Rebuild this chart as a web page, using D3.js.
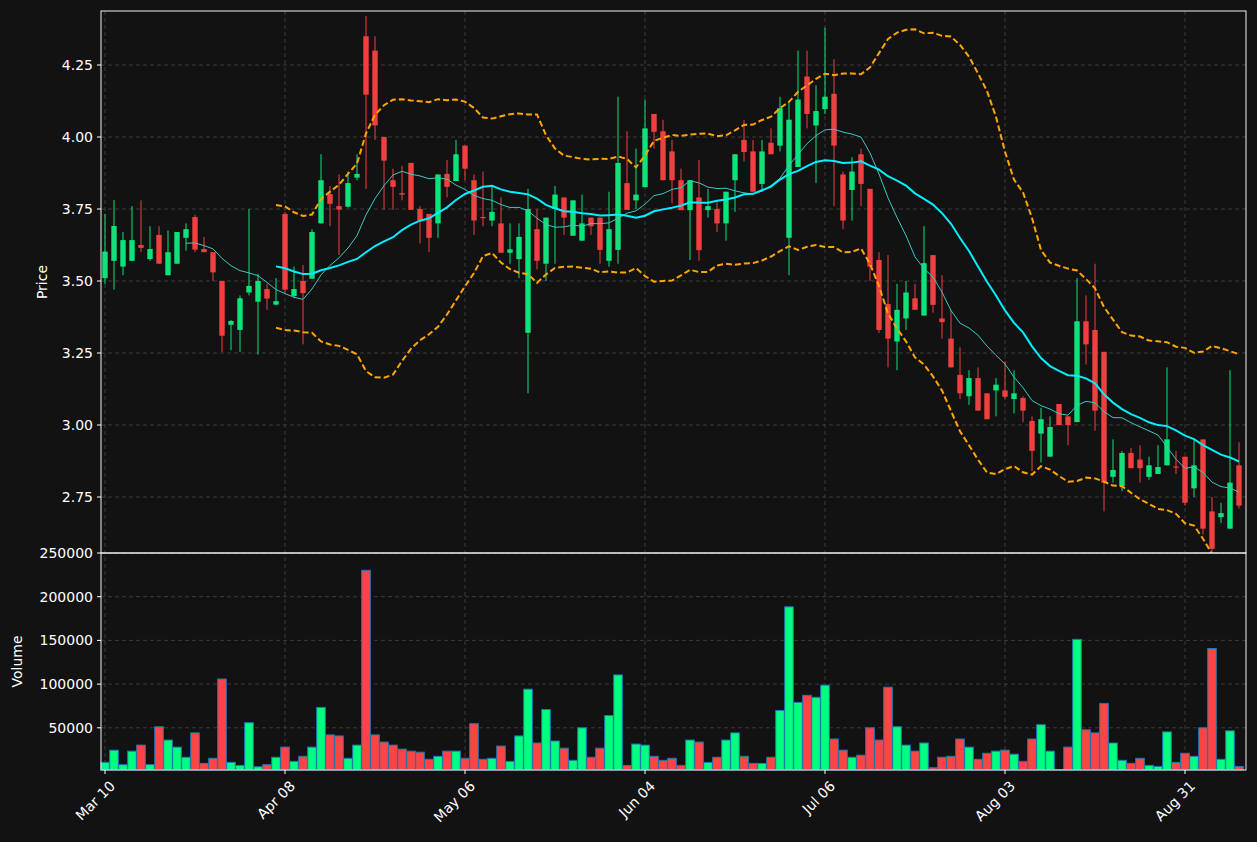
<!DOCTYPE html>
<html><head><meta charset="utf-8">
<script src="https://cdn.jsdelivr.net/npm/d3@7/dist/d3.min.js"></script>
<style>body{margin:0;background:#121212;}svg{display:block;font-family:"DejaVu Sans",sans-serif;}</style>
</head><body><svg id="c" width="1257" height="842"></svg>
<script>
const openP  = [3.51,3.57,3.55,3.57,3.625,3.576,3.66,3.52,3.56,3.65,3.722,3.611,3.60,3.50,3.348,3.33,3.46,3.428,3.472,3.418,3.733,3.448,3.50,3.508,3.70,3.802,3.76,3.758,3.859,4.35,4.30,4.00,3.85,3.805,3.91,3.75,3.733,3.70,3.872,3.847,3.97,3.85,3.722,3.71,3.70,3.598,3.576,3.32,3.68,3.56,3.75,3.79,3.657,3.64,3.72,3.72,3.57,3.608,3.84,3.78,3.826,4.08,4.02,3.95,3.85,3.746,3.79,3.746,3.75,3.70,3.85,3.99,3.95,3.837,3.98,3.97,3.65,3.896,4.21,4.04,4.097,4.15,3.87,3.816,3.94,3.82,3.573,3.42,3.29,3.37,3.44,3.38,3.59,3.37,3.30,3.174,3.10,3.163,3.11,3.12,3.12,3.09,3.094,3.014,2.97,2.89,3.073,3.03,3.01,3.36,3.33,3.254,2.82,2.788,2.903,2.88,2.82,2.83,2.86,2.856,2.89,2.78,2.95,2.70,2.68,2.64,2.86];
const closeP = [3.602,3.691,3.642,3.642,3.615,3.611,3.56,3.60,3.67,3.68,3.609,3.60,3.53,3.31,3.361,3.44,3.483,3.50,3.439,3.43,3.47,3.472,3.458,3.67,3.85,3.768,3.748,3.84,3.872,4.147,4.04,3.918,3.827,3.80,3.747,3.71,3.65,3.87,3.827,3.94,3.89,3.71,3.718,3.74,3.598,3.61,3.653,3.75,3.57,3.72,3.80,3.72,3.78,3.70,3.69,3.608,3.68,3.91,3.747,3.80,4.03,4.018,3.85,3.85,3.746,3.85,3.607,3.76,3.70,3.81,3.94,3.948,3.81,3.95,3.94,4.10,4.06,4.13,4.08,4.09,4.14,3.97,3.71,3.88,3.837,3.55,3.33,3.30,3.40,3.46,3.40,3.562,3.417,3.357,3.20,3.11,3.163,3.05,3.02,3.14,3.098,3.11,3.05,2.91,3.02,2.993,3.00,3.00,3.36,3.28,3.05,2.80,2.844,2.903,2.85,2.85,2.86,2.854,2.95,2.852,2.73,2.86,2.64,2.57,2.694,2.80,2.72];
const highP  = [3.733,3.781,3.67,3.76,3.78,3.69,3.69,3.675,3.67,3.70,3.73,3.653,3.60,3.50,3.365,3.45,3.75,3.525,3.49,3.51,3.74,3.55,3.555,3.68,3.94,3.83,3.87,3.88,3.94,4.42,4.35,4.00,3.89,3.90,3.91,3.76,3.733,3.87,3.92,3.99,3.97,3.87,3.88,3.83,3.79,3.70,3.70,3.82,3.75,3.72,3.83,3.79,3.78,3.80,3.72,3.72,3.81,4.14,4.02,3.96,4.13,4.08,4.06,3.99,3.89,3.85,3.92,3.82,3.78,3.81,3.94,4.06,3.99,3.99,4.03,4.14,4.12,4.30,4.30,4.18,4.38,4.27,3.88,3.93,3.96,3.82,3.60,3.59,3.49,3.50,3.49,3.69,3.59,3.52,3.40,3.27,3.19,3.20,3.11,3.163,3.22,3.19,3.10,3.03,3.06,3.03,3.073,3.03,3.51,3.45,3.56,3.254,2.95,2.91,2.92,2.93,2.89,2.93,3.20,2.91,2.89,2.95,2.95,2.75,2.73,3.19,2.94];
const lowP   = [3.49,3.47,3.52,3.57,3.60,3.57,3.56,3.52,3.56,3.605,3.60,3.60,3.50,3.254,3.26,3.254,3.45,3.245,3.40,3.415,3.46,3.44,3.28,3.508,3.70,3.69,3.59,3.755,3.85,3.82,3.99,3.747,3.747,3.78,3.747,3.63,3.60,3.65,3.79,3.847,3.85,3.66,3.69,3.69,3.598,3.56,3.51,3.11,3.54,3.50,3.56,3.66,3.657,3.64,3.66,3.56,3.55,3.56,3.747,3.75,3.826,3.96,3.85,3.77,3.746,3.573,3.57,3.72,3.67,3.64,3.74,3.915,3.81,3.81,3.94,3.95,3.52,3.896,4.03,3.84,4.08,3.76,3.68,3.71,3.76,3.50,3.32,3.20,3.19,3.33,3.40,3.38,3.39,3.30,3.20,3.09,3.07,3.05,3.02,3.03,3.09,3.04,3.01,2.84,2.87,2.89,3.00,2.93,3.01,3.21,2.98,2.70,2.80,2.77,2.85,2.80,2.81,2.83,2.86,2.83,2.72,2.75,2.62,2.56,2.66,2.64,2.71];
const volume = [10.5,24.4,7.8,23.3,30.2,7.8,51.2,36,27.9,16.3,44.2,9.3,15.1,105.8,10.5,7,55.8,5.4,7.8,16.3,27.9,11.6,17.4,27.9,73.3,41.9,40.7,15.1,30.2,230.2,41.9,33.7,30.2,25.6,23.3,22.1,14,17.4,23.3,23.3,15.1,54.7,14,15.1,29.1,11.6,40.7,94.2,32.6,70.9,34.9,26.7,12.8,50,16.3,26.7,64,110.5,7,31.4,30.2,17.4,12.8,15.1,7,36,33.7,10.5,16.3,36,44.2,17.4,9.3,9.3,16.3,69.8,188.4,79.1,87.2,84.9,98.8,37.2,24.4,16.3,18.6,50,36,96.5,51.2,30.2,23.3,32.6,4.3,16.3,17.4,37.2,27.9,14,20.9,23.3,24.4,19.8,11.6,37.2,53.5,23.3,2.3,27.9,151.2,47.7,44.2,77.9,32.6,12.8,9.3,15.1,7,5.8,45.3,10.5,20.9,17.4,50,140.7,14,46.5,5.8].map(v=>v*1000);
const tickIdx = [0,20,40,60,80,100,120];
const tickLabels = ["Mar 10","Apr 08","May 06","Jun 04","Jul 06","Aug 03","Aug 31"];
const priceTicks = [2.75,3.00,3.25,3.50,3.75,4.00,4.25];
const volTicks = [50000,100000,150000,200000,250000];

const N = closeP.length;
const svg = d3.select("#c");
const L=101,R=1246,PT=11,PB=553,VB=770;
const x = d3.scaleLinear().domain([0,126]).range([105,1239]);
const y = d3.scaleLinear().domain([2.75,4.25]).range([497,65]);
const yv = d3.scaleLinear().domain([0,250000]).range([771.5,553]);
const GREEN="#0ee27a", RED="#ef3f3f", VG="#00ff80", VR="#ff4444";
svg.append("rect").attr("width",1257).attr("height",842).attr("fill","#121212");
svg.append("defs").append("clipPath").attr("id","pc").append("rect").attr("x",L).attr("y",PT).attr("width",R-L).attr("height",PB-PT);

const grid = svg.append("g").attr("stroke","#3a3a3a").attr("stroke-dasharray","4,3").attr("stroke-width",1);
tickIdx.forEach(i=>{grid.append("line").attr("x1",x(i)).attr("x2",x(i)).attr("y1",PT).attr("y2",VB);});
priceTicks.forEach(p=>{grid.append("line").attr("x1",L).attr("x2",R).attr("y1",y(p)).attr("y2",y(p));});
volTicks.forEach(v=>{grid.append("line").attr("x1",L).attr("x2",R).attr("y1",yv(v)).attr("y2",yv(v));});

function sma(n){return closeP.map((c,i)=>i<n-1?null:d3.mean(closeP.slice(i-n+1,i+1)));}
const s10=sma(10), s20=sma(20);
const up=[],lo=[];
closeP.forEach((c,i)=>{if(i<19){up.push(null);lo.push(null);return;}const w=closeP.slice(i-19,i+1);const m=d3.mean(w);const sd=Math.sqrt(d3.mean(w.map(v=>(v-m)**2)));up.push(m+2*sd);lo.push(m-2*sd);});

const pg=svg.append("g").attr("clip-path","url(#pc)");
d3.range(N).forEach(i=>{
  const g = closeP[i]>=openP[i]; const col=g?GREEN:RED;
  pg.append("line").attr("x1",x(i)).attr("x2",x(i)).attr("y1",y(highP[i])).attr("y2",y(lowP[i])).attr("stroke",col).attr("stroke-width",1);
  const t=y(Math.max(openP[i],closeP[i])), b=y(Math.min(openP[i],closeP[i]));
  pg.append("rect").attr("x",x(i)-2.7).attr("width",5.4).attr("y",t).attr("height",Math.max(1,b-t)).attr("fill",col);
});
const line=d3.line().defined(d=>d!=null).x((d,i)=>x(i)).y(d=>y(d));
pg.append("path").datum(up).attr("d",line).attr("fill","none").attr("stroke","#ffa500").attr("stroke-width",2).attr("stroke-dasharray","6,3");
pg.append("path").datum(lo).attr("d",line).attr("fill","none").attr("stroke","#ffa500").attr("stroke-width",2).attr("stroke-dasharray","6,3");
pg.append("path").datum(s10).attr("d",line).attr("fill","none").attr("stroke","#3cc8c0").attr("stroke-width",1);
pg.append("path").datum(s20).attr("d",line).attr("fill","none").attr("stroke","#00f0ff").attr("stroke-width",2);

const vg=svg.append("g");
d3.range(N).forEach(i=>{
  const g=closeP[i]>=openP[i];
  vg.append("rect").attr("x",x(i)-4.3).attr("width",8.6).attr("y",yv(volume[i])).attr("height",Math.max(0,VB-yv(volume[i]))).attr("fill",g?VG:VR).attr("stroke","#1f77b4").attr("stroke-width",1);
});

const fr=svg.append("g").attr("fill","none").attr("stroke","#f0f0f0").attr("stroke-width",1);
fr.append("rect").attr("x",L).attr("y",PT).attr("width",R-L).attr("height",PB-PT);
fr.append("rect").attr("x",L).attr("y",PB).attr("width",R-L).attr("height",VB-PB);

const ax=svg.append("g").attr("fill","#fff").attr("font-size",14);
priceTicks.forEach(p=>{
  ax.append("line").attr("x1",L-4).attr("x2",L).attr("y1",y(p)).attr("y2",y(p)).attr("stroke","#fff");
  ax.append("text").attr("x",L-8).attr("y",y(p)).attr("dy","0.35em").attr("text-anchor","end").text(p.toFixed(2));
});
volTicks.forEach(v=>{
  ax.append("line").attr("x1",L-4).attr("x2",L).attr("y1",yv(v)).attr("y2",yv(v)).attr("stroke","#fff");
  ax.append("text").attr("x",L-8).attr("y",yv(v)).attr("dy","0.35em").attr("text-anchor","end").text(v);
});
tickIdx.forEach((ti,k)=>{
  ax.append("line").attr("x1",x(ti)).attr("x2",x(ti)).attr("y1",VB).attr("y2",VB+4).attr("stroke","#fff");
  ax.append("text").attr("transform",`translate(${x(ti)+4},${VB+10}) rotate(-45)`).attr("text-anchor","end").attr("dy","0.7em").text(tickLabels[k]);
});
ax.append("text").attr("transform",`translate(47,${(PT+PB)/2}) rotate(-90)`).attr("text-anchor","middle").text("Price");
ax.append("text").attr("transform",`translate(22,${(PB+VB)/2}) rotate(-90)`).attr("text-anchor","middle").text("Volume");
</script></body></html>
